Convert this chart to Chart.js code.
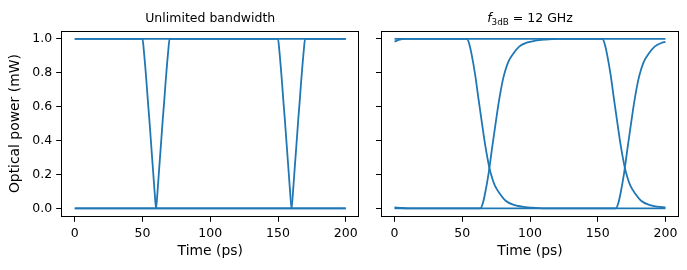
<!DOCTYPE html>
<html>
<head>
<meta charset="utf-8">
<script src="https://cdn.jsdelivr.net/npm/chart.js@4/dist/chart.umd.min.js"></script>
<style>
  body { margin: 0; background: #fff; }
  #wrap { position: relative; width: 687px; height: 270px; }
  canvas { position: absolute; top: 0; }
</style>
</head>
<body>
<div id="wrap">
  <canvas id="left" width="362" height="270" style="left:0;width:362px;height:270px"></canvas>
  <canvas id="right" width="325" height="270" style="left:362px;width:325px;height:270px"></canvas>
</div>
<script>
const xTicks = [0, 50, 100, 150, 200];
const yTicks = [0, 0.2, 0.4, 0.6, 0.8, 1.0];
const xLabel = 'Time (ps)';
const yLabel = 'Optical power (mW)';

// left panel: unlimited bandwidth
const idealFlatTime = [0, 200];
const idealHigh = [1, 1];
const idealLow = [0, 0];
const idealDipTime = [0, 50, 51, 52, 53, 54, 55, 56, 57, 58, 59, 60,
  160, 161, 162, 163, 164, 165, 166, 167, 168, 169, 170, 200];
const idealDipPower = [1, 1, 0.93, 0.84, 0.74, 0.63, 0.53, 0.42, 0.31, 0.2, 0.09, 0,
  0, 0.09, 0.2, 0.31, 0.42, 0.53, 0.63, 0.74, 0.84, 0.93, 1, 1];
const idealBumpTime = [0, 60, 61, 62, 63, 64, 65, 66, 67, 68, 69, 70,
  150, 151, 152, 153, 154, 155, 156, 157, 158, 159, 160, 200];
const idealBumpPower = [0, 0, 0.09, 0.2, 0.31, 0.42, 0.53, 0.63, 0.74, 0.84, 0.93, 1,
  1, 0.93, 0.84, 0.74, 0.63, 0.53, 0.42, 0.31, 0.2, 0.09, 0, 0];

// right panel: f3dB = 12 GHz
const bwHighTime = [0, 3, 8, 200];
const bwHigh = [0.984, 0.994, 1, 1];
const bwLowTime = [0, 5, 10, 200];
const bwLow = [0.006, 0.002, 0, 0];
const bwFallRiseTime = [0, 53.4, 55, 57, 59.5, 62, 64.5, 67, 70, 72, 74, 78, 82, 87.5, 94, 101, 110,
  163.4, 165, 167, 169.5, 172, 174.5, 177, 180, 182, 184, 188, 192, 197.5, 200];
const bwFallRise = [1, 1, 0.975, 0.905, 0.79, 0.645, 0.505, 0.37, 0.24, 0.18, 0.135, 0.083, 0.045, 0.022, 0.01, 0.004, 0,
  0, 0.025, 0.095, 0.21, 0.355, 0.495, 0.63, 0.76, 0.82, 0.865, 0.917, 0.955, 0.978, 0.983];
const bwRiseFallTime = [0, 63.4, 65, 67, 69.5, 72, 74.5, 77, 80, 82, 84, 88, 92, 97.5, 104, 111, 120,
  153.4, 155, 157, 159.5, 162, 164.5, 167, 170, 172, 174, 178, 182, 187.5, 194, 200];
const bwRiseFall = [0, 0, 0.025, 0.095, 0.21, 0.355, 0.495, 0.63, 0.76, 0.82, 0.865, 0.917, 0.955, 0.978, 0.99, 0.996, 1,
  1, 0.975, 0.905, 0.79, 0.645, 0.505, 0.37, 0.24, 0.18, 0.135, 0.083, 0.045, 0.022, 0.01, 0.005];

const leftTitle = [{ text: 'Unlimited bandwidth' }];
const rightTitle = [
  { text: 'f', italic: true },
  { text: '3dB', sub: true },
  { text: ' = 12 GHz' }
];

const FONT = '"DejaVu Sans", sans-serif';
const BLUE = '#1f77b4';

function pts(ts, vs) {
  return ts.map((t, i) => ({ x: t, y: vs[i] }));
}

function trace(ts, vs) {
  return {
    data: pts(ts, vs),
    borderColor: BLUE,
    borderWidth: 1.8,
    pointRadius: 0,
    fill: false,
    cubicInterpolationMode: 'monotone'
  };
}

// axes frame on all four sides, like the original
const framePlugin = {
  id: 'frame',
  afterDraw(chart) {
    const { ctx, chartArea: a } = chart;
    ctx.save();
    ctx.strokeStyle = '#000';
    ctx.lineWidth = 1;
    ctx.strokeRect(Math.round(a.left) + 0.5, Math.round(a.top) + 0.5,
      Math.round(a.right - a.left) - 1, Math.round(a.bottom - a.top) - 1);
    ctx.restore();
  }
};

// title with italic / subscript pieces
const titlePlugin = {
  id: 'mathTitle',
  afterDraw(chart, args, opts) {
    const { ctx, chartArea: a } = chart;
    const base = 21.5;
    const parts = opts.parts.map(p => {
      const size = p.sub ? 8.8 : 12.5;
      const font = (p.italic ? 'italic ' : '') + size + 'px ' + FONT;
      ctx.font = font;
      return { text: p.text, font, dy: p.sub ? 3.5 : 0, w: ctx.measureText(p.text).width };
    });
    const total = parts.reduce((s, p) => s + p.w, 0);
    let x = (a.left + a.right) / 2 - total / 2;
    ctx.save();
    ctx.fillStyle = '#000';
    ctx.textBaseline = 'alphabetic';
    ctx.textAlign = 'left';
    parts.forEach(p => {
      ctx.font = p.font;
      ctx.fillText(p.text, x, base + p.dy);
      x += p.w;
    });
    ctx.restore();
  }
};

function makeOptions(isLeft) {
  return {
    responsive: false,
    animation: false,
    layout: { padding: { top: 30.5, right: isLeft ? 2.7 : 8, bottom: 0, left: 0 } },
    plugins: {
      legend: { display: false },
      tooltip: { enabled: false },
      mathTitle: { parts: isLeft ? leftTitle : rightTitle }
    },
    scales: {
      x: {
        type: 'linear',
        min: -10,
        max: 210,
        afterBuildTicks: s => { s.ticks = xTicks.map(v => ({ value: v })); },
        afterFit: s => { s.height = 53.2; },
        grid: { drawOnChartArea: false, color: '#000', lineWidth: 1, tickLength: 5 },
        border: { display: false },
        ticks: {
          color: '#000',
          font: { family: FONT, size: 12.5 },
          padding: 4,
          maxRotation: 0,
          callback: v => String(v)
        },
        title: {
          display: true,
          text: xLabel,
          color: '#000',
          font: { family: FONT, size: 13.9 },
          padding: { top: 0, bottom: 10.5 }
        }
      },
      y: {
        type: 'linear',
        min: -0.05,
        max: 1.05,
        afterBuildTicks: s => { s.ticks = yTicks.map(v => ({ value: v })); },
        afterFit: s => { s.width = isLeft ? 61.2 : 19; },
        grid: { drawOnChartArea: false, color: '#000', lineWidth: 1, tickLength: 5 },
        border: { display: false },
        ticks: {
          display: isLeft,
          color: '#000',
          font: { family: FONT, size: 12.5 },
          padding: 4,
          callback: v => v.toFixed(1)
        },
        title: {
          display: isLeft,
          text: yLabel,
          color: '#000',
          font: { family: FONT, size: 13.9 },
          padding: { top: 7, bottom: 0 }
        }
      }
    }
  };
}

new Chart(document.getElementById('left'), {
  type: 'line',
  data: {
    datasets: [
      trace(idealFlatTime, idealHigh),
      trace(idealFlatTime, idealLow),
      trace(idealDipTime, idealDipPower),
      trace(idealBumpTime, idealBumpPower)
    ]
  },
  options: makeOptions(true),
  plugins: [framePlugin, titlePlugin]
});

new Chart(document.getElementById('right'), {
  type: 'line',
  data: {
    datasets: [
      trace(bwHighTime, bwHigh),
      trace(bwLowTime, bwLow),
      trace(bwFallRiseTime, bwFallRise),
      trace(bwRiseFallTime, bwRiseFall)
    ]
  },
  options: makeOptions(false),
  plugins: [framePlugin, titlePlugin]
});
</script>
</body>
</html>
